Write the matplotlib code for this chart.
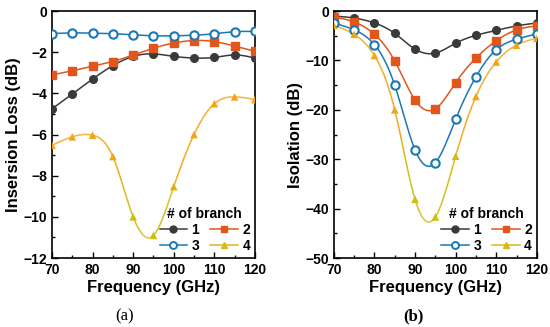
import numpy as np
import matplotlib.pyplot as plt
from matplotlib.ticker import MultipleLocator
from matplotlib.collections import LineCollection
from matplotlib.colors import to_rgb

# Dane
freq = [70, 75, 80, 85, 90, 95, 100, 105, 110, 115, 120]

il_1 = [-4.75, -4.03, -3.3, -2.65, -2.2, -2.08, -2.2, -2.28, -2.25, -2.13, -2.28]
il_2 = [-3.1, -2.9, -2.68, -2.45, -2.13, -1.8, -1.55, -1.43, -1.48, -1.7, -1.95]
il_3 = [-1.09, -1.06, -1.07, -1.1, -1.15, -1.2, -1.2, -1.17, -1.1, -1.0, -0.99]
il_4 = [-6.52, -6.11, -6.03, -7.07, -10.0, -10.9, -8.53, -6.0, -4.5, -4.17, -4.3]

iso_1 = [-1.0, -1.4, -2.4, -4.5, -7.7, -8.5, -6.5, -4.9, -3.9, -3.0, -2.4]
iso_2 = [-1.2, -2.2, -4.7, -10.1, -18.0, -19.8, -14.5, -9.5, -6.0, -3.8, -3.0]
iso_3 = [-2.4, -3.8, -6.8, -15.0, -28.1, -30.7, -21.9, -13.3, -7.8, -5.7, -4.6]
iso_4 = [-2.9, -4.7, -9.0, -20.0, -38.1, -41.7, -29.4, -17.3, -10.3, -6.9, -5.5]

labels = ['1', '2', '3', '4']


# Naturalny splajn kubiczny (linie jak w Originie)
def spline(x, y, n=300):
    x = np.asarray(x, float)
    y = np.asarray(y, float)
    k = len(x)
    h = np.diff(x)
    A = np.zeros((k, k))
    b = np.zeros(k)
    A[0, 0] = A[-1, -1] = 1
    for i in range(1, k - 1):
        A[i, i - 1] = h[i - 1]
        A[i, i] = 2 * (h[i - 1] + h[i])
        A[i, i + 1] = h[i]
        b[i] = 6 * ((y[i + 1] - y[i]) / h[i] - (y[i] - y[i - 1]) / h[i - 1])
    M = np.linalg.solve(A, b)
    xs = np.linspace(x[0], x[-1], n)
    idx = np.clip(np.searchsorted(x, xs) - 1, 0, k - 2)
    x0, x1 = x[idx], x[idx + 1]
    hh = x1 - x0
    ys = (M[idx] * (x1 - xs) ** 3 / (6 * hh) + M[idx + 1] * (xs - x0) ** 3 / (6 * hh)
          + (y[idx] / hh - M[idx] * hh / 6) * (x1 - xs)
          + (y[idx + 1] / hh - M[idx + 1] * hh / 6) * (xs - x0))
    return xs, ys


# kolor serii 4 przechodzi z pomaranczowego (gora) w zoltooliwkowy (dol)
ORANGE = np.array(to_rgb('#f2a516'))
OLIVE = np.array(to_rgb('#cdbf12'))


def gradient(y, lo, hi):
    t = (hi - np.asarray(y, float)) / (hi - lo)
    t = np.clip((t - 0.45) / 0.35, 0, 1)
    t = t * t * (3 - 2 * t)
    return ORANGE[None, :] * (1 - t[:, None]) + OLIVE[None, :] * t[:, None]


plt.rcParams['font.family'] = ['Liberation Sans', 'DejaVu Sans']
plt.rcParams['font.weight'] = 'bold'

styles = [
    dict(color='#3a3a3a', marker='o', mfc='#3a3a3a', lc='#3a3a3a'),
    dict(color='#e2561c', marker='s', mfc='#e2561c', lc='#e2561c'),
    dict(color='#1a78b4', marker='o', mfc='white', lc='#1a78b4'),
    dict(color='#d9b81a', marker='^', mfc='#d9b81a', lc='#d9b81a'),
]

fig = plt.figure(figsize=(5.5, 3.27), dpi=100)
ax1 = fig.add_axes([0.0945, 0.211, 0.369, 0.755])
ax2 = fig.add_axes([0.607, 0.211, 0.369, 0.755])


def rysuj(ax, serie, ylim, major, minor, ylabel):
    handles = []
    for i, (y, st, lab) in enumerate(zip(serie, styles, labels)):
        hollow = st['mfc'] == 'white'
        xs, ys = spline(freq, y)
        if i == 3:
            lo, hi = ys.min(), ys.max()
            pts = np.column_stack([xs, ys]).reshape(-1, 1, 2)
            segs = np.concatenate([pts[:-1], pts[1:]], axis=1)
            lc = LineCollection(segs, colors=gradient((ys[:-1] + ys[1:]) / 2, lo, hi),
                                lw=1.1, zorder=2)
            ax.add_collection(lc)
            ax.scatter(freq, y, marker='^', s=30, c=gradient(y, lo, hi),
                       edgecolors='none', zorder=3)
        else:
            ax.plot(xs, ys, color=st['lc'], lw=1.1, zorder=2)
            ax.plot(freq, y, ls='none', marker=st['marker'], color=st['color'],
                    mfc=st['mfc'], mec=st['color'], ms=6 if hollow else 5.5,
                    mew=1.5 if hollow else 1, zorder=3)
        h, = ax.plot([], [], color=st['lc'], lw=1.1, marker=st['marker'], mfc=st['mfc'],
                     mec=st['color'], ms=5, mew=1.4 if hollow else 1, label=lab)
        handles.append(h)
    ax.set_xlim(70, 120)
    ax.set_ylim(*ylim)
    ax.xaxis.set_major_locator(MultipleLocator(10))
    ax.xaxis.set_minor_locator(MultipleLocator(5))
    ax.yaxis.set_major_locator(MultipleLocator(major))
    ax.yaxis.set_minor_locator(MultipleLocator(minor))
    ax.tick_params(which='both', direction='in', labelsize=10)
    ax.tick_params(which='major', length=4, width=1)
    ax.tick_params(which='minor', length=2.5, width=1)
    for s in ax.spines.values():
        s.set_linewidth(1.2)
    ax.set_xlabel('Frequency (GHz)', fontsize=12, fontweight='bold', labelpad=2)
    ax.set_ylabel(ylabel, fontsize=12, fontweight='bold', labelpad=2)
    # kolejnosc wierszami: 1 2 / 3 4
    order = [0, 2, 1, 3]
    leg = ax.legend([handles[i] for i in order], [labels[i] for i in order],
                    title='# of branch', ncol=2, frameon=False, loc='lower right',
                    bbox_to_anchor=(1.0, 0.0), fontsize=10, title_fontsize=10,
                    handlelength=2.0, columnspacing=0.8, handletextpad=0.3,
                    labelspacing=0.15, borderaxespad=0.15, borderpad=0.2)
    leg.get_title().set_fontweight('bold')


rysuj(ax1, [il_1, il_2, il_3, il_4], (-12, 0), 2, 1, 'Insersion Loss (dB)')
rysuj(ax2, [iso_1, iso_2, iso_3, iso_4], (-50, 0), 10, 5, 'Isolation (dB)')

fig.text(125 / 550, 0.02, '(a)', fontsize=12, family='Liberation Serif', fontweight='normal', ha='center')
fig.text(413 / 550, 0.02, '(b)', fontsize=12, family='Liberation Serif', fontweight='bold', ha='center')

fig.savefig('out.png', dpi=100)
